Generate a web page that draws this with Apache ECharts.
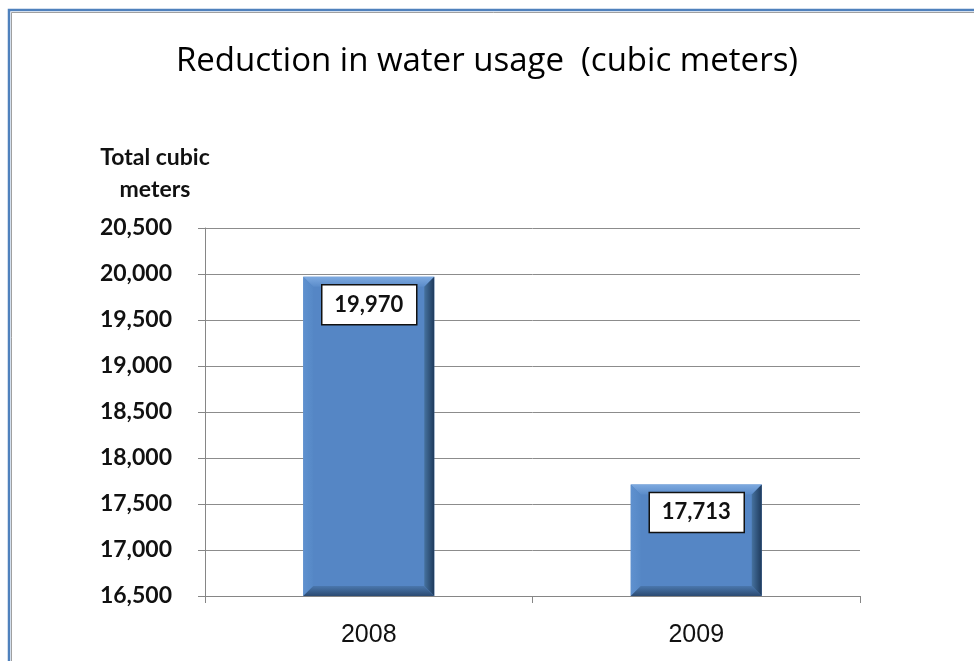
<!DOCTYPE html>
<html>
<head>
<meta charset="utf-8">
<script src="https://cdn.jsdelivr.net/npm/echarts@6/dist/echarts.min.js"></script>
<style>
  html, body { margin: 0; padding: 0; background: #fff; }
  #chart { width: 974px; height: 661px; }
</style>
</head>
<body>
<div id="chart"></div>
<script>
// Annual water usage, cubic meters
const years = ['2008', '2009'];
const usage = [19970, 17713];
const yMin = 16500;
const yMax = 20500;
const yStep = 500;

const chart = echarts.init(document.getElementById('chart'));

function fmt(v) {
  return v.toLocaleString('en-US');
}

// Bar with a bevelled frame and a boxed value label near the top
function renderBevelBar(params, api) {
  const idx = api.value(0);
  const val = api.value(1);
  const top = api.coord([idx, val]);
  const base = api.coord([idx, yMin]);
  const band = api.size([1, 0])[0];
  const w = band * 0.4;
  const x0 = top[0] - w / 2, x1 = top[0] + w / 2;
  const y0 = top[1], y1 = base[1];
  const b = 10;
  const lg = (x1_, y1_, x2_, y2_, c1, c2) => new echarts.graphic.LinearGradient(x1_, y1_, x2_, y2_, [
    { offset: 0, color: c1 }, { offset: 1, color: c2 }
  ]);
  const children = [
    { type: 'rect', shape: { x: x0, y: y0, width: w, height: y1 - y0 }, style: { fill: '#5586c5' } },
    // top bevel
    { type: 'polygon', shape: { points: [[x0, y0], [x1, y0], [x1 - b, y0 + b], [x0 + b, y0 + b]] },
      style: { fill: lg(0, 0, 0, 1, '#7eaae0', '#5b8cca') } },
    // left bevel
    { type: 'polygon', shape: { points: [[x0, y0], [x0 + b, y0 + b], [x0 + b, y1 - b], [x0, y1]] },
      style: { fill: lg(0, 0, 1, 0, '#5f91cf', '#5688c6') } },
    // right bevel
    { type: 'polygon', shape: { points: [[x1, y0], [x1 - b, y0 + b], [x1 - b, y1 - b], [x1, y1]] },
      style: { fill: lg(0, 0, 1, 0, '#46729f', '#1e3a5c') } },
    // bottom bevel
    { type: 'polygon', shape: { points: [[x0, y1], [x0 + b, y1 - b], [x1 - b, y1 - b], [x1, y1]] },
      style: { fill: lg(0, 0, 0, 1, '#4a77ad', '#2c4b72') } },
    // value box
    { type: 'rect', shape: { x: top[0] - 47, y: y0 + 8, width: 95, height: 40 },
      style: { fill: '#ffffff', stroke: '#111', lineWidth: 1.5 } },
    { type: 'text', style: { x: top[0], y: y0 + 28, text: fmt(val), fill: '#111',
      font: 'bold 22px Lato', align: 'center', verticalAlign: 'middle' } }
  ];
  return { type: 'group', children: children };
}

chart.setOption({
  backgroundColor: '#ffffff',
  animation: false,
  title: {
    text: 'Reduction in water usage  (cubic meters)',
    left: 'center',
    top: 40,
    textStyle: { fontFamily: 'Open Sans', fontWeight: 'normal', fontSize: 33, color: '#000' }
  },
  graphic: [
    { type: 'rect', shape: { x: 9, y: 10, width: 1000, height: 700 },
      style: { fill: 'none', stroke: '#4f81bd', lineWidth: 2.5 } },
    { type: 'rect', shape: { x: 11.5, y: 12.5, width: 1000, height: 700 },
      style: { fill: 'none', stroke: '#a0a0a0', lineWidth: 1 } },
    { type: 'text', x: 155, y: 158,
      style: { text: 'Total cubic', font: 'bold 23px Lato', fill: '#111',
        align: 'center', verticalAlign: 'middle' } },
    { type: 'text', x: 155, y: 190,
      style: { text: 'meters', font: 'bold 23px Lato', fill: '#111',
        align: 'center', verticalAlign: 'middle' } }
  ],
  grid: { left: 205, right: 114, top: 228, bottom: 65 },
  xAxis: {
    type: 'category',
    data: years,
    axisLine: { lineStyle: { color: '#868686', width: 1 } },
    axisTick: { show: true, length: 7, lineStyle: { color: '#868686' } },
    axisLabel: { fontFamily: 'Liberation Sans', fontSize: 25, color: '#111', margin: 27 }
  },
  yAxis: {
    type: 'value',
    min: yMin,
    max: yMax,
    interval: yStep,
    axisLine: { show: true, lineStyle: { color: '#868686' } },
    axisTick: { show: true, length: 7, lineStyle: { color: '#868686' } },
    splitLine: { lineStyle: { color: '#8c8c8c', width: 1 } },
    axisLabel: {
      fontFamily: 'Lato', fontWeight: 'bold', fontSize: 23, color: '#111', margin: 33,
      formatter: v => fmt(v)
    }
  },
  series: [{
    type: 'custom',
    renderItem: renderBevelBar,
    data: years.map((y, i) => [i, usage[i]]),
    encode: { x: 0, y: 1 },
    z: 3
  }]
});
</script>
</body>
</html>
